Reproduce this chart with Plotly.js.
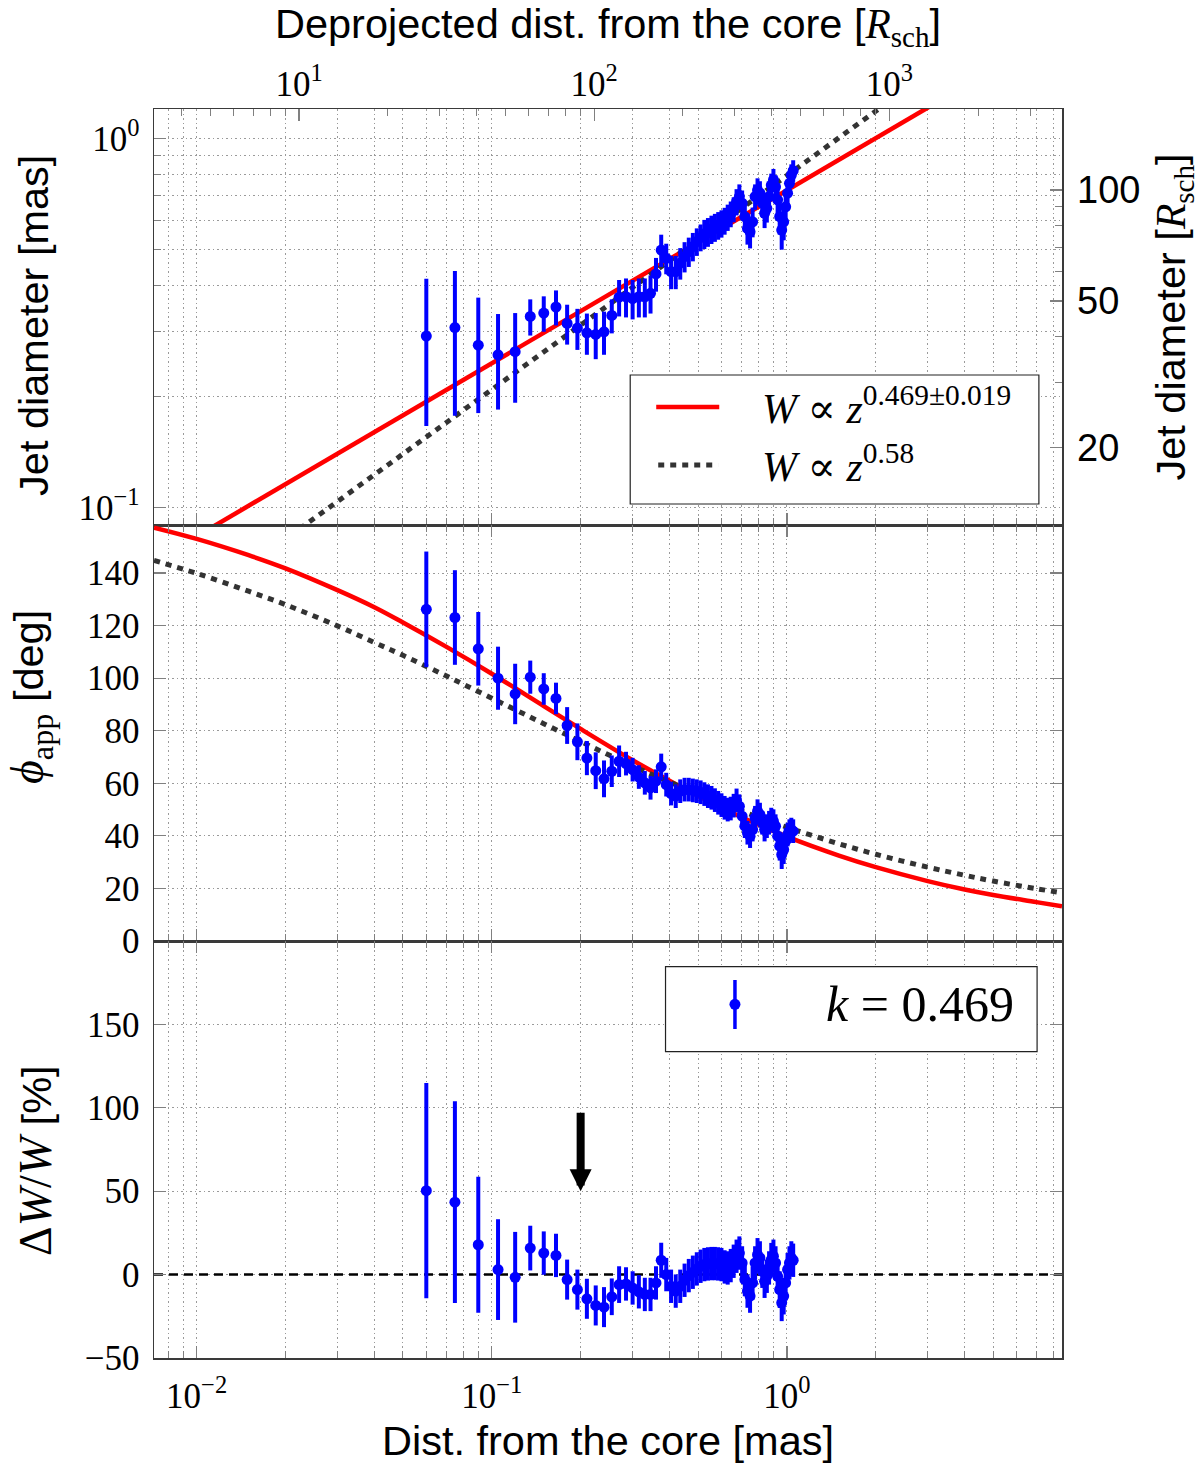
<!DOCTYPE html>
<html><head><meta charset="utf-8">
<script src="https://cdn.plot.ly/plotly-3.0.1.min.js"></script>
<style>body{margin:0;background:#fff}#chart{width:1200px;height:1464px}</style>
</head><body><div id="chart"></div>
<script>
// ---------------- data ----------------
const distMas = [0.060,0.075,0.090,0.105,0.120,0.135,0.150,0.165,0.180,0.195,0.210,0.225,0.240,0.255,0.270,0.285,0.300,0.315,0.330,0.345,0.360,0.375,0.390,0.405,0.420,0.435,0.450,0.465,0.480,0.495,0.510,0.525,0.540,0.555,0.570,0.585,0.600,0.615,0.630,0.645,0.660,0.675,0.690,0.705,0.720,0.735,0.750,0.765,0.780,0.795,0.810,0.825,0.840,0.855,0.870,0.885,0.900,0.915,0.930,0.945,0.960,0.975,0.990,1.005,1.020,1.035,1.050];
const widthMas = [0.291,0.307,0.275,0.259,0.264,0.329,0.336,0.349,0.315,0.306,0.297,0.294,0.299,0.331,0.371,0.372,0.368,0.372,0.372,0.380,0.429,0.498,0.473,0.435,0.435,0.459,0.478,0.493,0.509,0.525,0.539,0.551,0.558,0.567,0.574,0.581,0.588,0.598,0.611,0.624,0.642,0.673,0.695,0.667,0.613,0.570,0.558,0.594,0.695,0.724,0.710,0.667,0.626,0.646,0.695,0.747,0.771,0.739,0.681,0.613,0.564,0.594,0.652,0.710,0.755,0.795,0.817];
const widthErr = [0.125,0.130,0.095,0.075,0.072,0.037,0.037,0.038,0.039,0.039,0.038,0.042,0.040,0.035,0.042,0.045,0.045,0.045,0.045,0.045,0.045,0.050,0.045,0.045,0.045,0.045,0.045,0.045,0.045,0.045,0.045,0.050,0.050,0.050,0.050,0.050,0.050,0.050,0.050,0.050,0.050,0.055,0.055,0.055,0.055,0.055,0.055,0.055,0.055,0.055,0.055,0.055,0.055,0.055,0.055,0.055,0.055,0.055,0.055,0.065,0.065,0.065,0.060,0.055,0.055,0.055,0.055];
const phiDeg = [126.2,123.1,111.2,100.0,94.0,100.4,95.9,92.3,82.0,75.8,69.6,64.8,61.7,64.6,68.4,67.5,65.2,62.4,60.2,58.3,60.8,66.3,59.5,56.1,55.1,57.0,57.6,57.6,57.3,57.0,56.6,55.9,55.1,54.5,53.6,52.6,51.7,50.7,50.0,50.4,51.5,53.5,51.3,47.5,43.7,41.2,39.9,42.4,46.9,49.4,48.1,45.0,42.4,43.7,45.0,46.2,45.6,43.7,39.9,36.1,32.9,34.8,38.0,40.5,41.8,42.4,41.8];
const phiErr = [22,18,14,12,11.5,6.3,6,6,7,7,6.5,7,7,6,6,4.5,4.5,4.5,4.5,4.5,4.5,5,4.5,4.5,4.5,4.5,4.5,4.5,4.5,4.5,4.5,4.5,4.5,4.5,4.5,4.5,4.5,4.5,4.5,4.5,4.5,4.5,4.5,4.5,4.5,4.5,4.5,4.5,4.5,4.5,4.5,4.5,4.5,4.5,4.5,4.5,4.5,4.5,5,5.5,5.5,5.5,5,4.5,4.5,4.5,4.5];
const dwPct = [50.3,43.4,17.9,3.0,-1.6,15.9,12.9,11.5,-3.0,-9.0,-14.5,-18.5,-19.5,-13.3,-6.0,-5.6,-8.0,-10.3,-11.9,-11.9,-5.0,8.6,0.0,-7.0,-9.9,-7.0,-3.4,-0.6,1.4,3.4,5.0,6.0,6.4,6.6,6.6,6.4,6.0,4.6,4.0,5.4,8.0,11.0,12.9,7.0,-3.0,-9.9,-12.9,-5.0,7.0,11.9,10.0,2.0,-4.0,-1.0,4.0,9.0,11.0,7.0,-1.0,-9.0,-16.9,-12.9,-5.0,3.0,7.0,10.0,8.6];
const dwErr = [64.5,60.5,40.8,30.2,27.2,13.4,13,13,12,12,12,12,12,11,11,10,10,10,10,10,10,10.5,10,10,10,10,10,10,10,10,10,10,10,10,10,10,10,10,10,10,10,10,10,10,10,10,10,10,10,10,10,10,10,10,10,10,10,10,10,11,11,11,10.5,10,10,10,10];

// fitted power-law lines (top panel, straight in log-log)
const fitX = [0.00717, 8.55];
const fitRedW = [0.0714, 1.978];   // W ∝ z^0.469
const fitDotW = [0.0452, 2.753];   // W ∝ z^0.58
// corresponding apparent opening angle curves (middle panel)
const curveX = [0.00717,0.01,0.015,0.02,0.03,0.04,0.05,0.07,0.1,0.15,0.2,0.3,0.4,0.5,0.7,1,1.5,2,3,4,5,7,8.55];
const curveRedPhi = [157.3,153.0,146.8,141.8,133.5,127.0,121.2,112.0,101.7,89.4,80.7,68.8,61.0,55.2,47.2,39.7,32.5,28.1,22.8,19.6,17.5,14.8,13.2];
const curveDotPhi = [144.8,139.9,133.1,128.0,119.9,113.6,108.7,100.9,92.4,82.7,75.9,66.6,60.5,55.9,49.5,43.3,37.0,33.0,28.1,25.0,22.8,19.9,18.3];
const zeroX = [0.00717, 8.55];
const zeroY = [0, 0];
const arrowMas = 0.2, arrowFrom = 98, arrowTo = 50;

// axis tick labels
const xTickVals = [0.01, 0.1, 1];
const xTickText = ['10<sup>−2</sup>', '10<sup>−1</sup>', '10<sup>0</sup>'];
const topTickVals = [10, 100, 1000];
const topTickText = ['10<sup>1</sup>', '10<sup>2</sup>', '10<sup>3</sup>'];
const wTickVals = [0.1, 1];
const wTickText = ['10<sup>−1</sup>', '10<sup>0</sup>'];
const rTickVals = [20, 50, 100];
const rTickText = ['20', '50', '100'];
const phiTickVals = [0, 20, 40, 60, 80, 100, 120, 140];
const dwTickVals = [-50, 0, 50, 100, 150];

// scale factors between axes
const rschPerMas = 138;       // right axis: diameter in R_sch
const rschDeprojPerMas = 450; // top axis: deprojected distance in R_sch

// ---------------- styling ----------------
const SERIF = "Liberation Serif, DejaVu Serif, serif";
const SANS = "Liberation Sans, Arial, sans-serif";
const gridC = '#9a9a9a', lineC = '#3a3a3a', tickC = '#808080';
const GDASH = '1.5px,3px';
const BLUE = '#0000ff', RED = '#ff0000', DOT = '#333333';
const TFS = 41.5;
const L = Math.log10;

const xr = [L(0.00717), L(8.55)];
const wr = [-1.048, 0.0794];
const xMinor = [0.008,0.009,0.02,0.03,0.04,0.05,0.06,0.07,0.08,0.09,0.2,0.3,0.4,0.5,0.6,0.7,0.8,0.9,2,3,4,5,6,7,8];
const topMinor = [4,5,6,7,8,9,20,30,40,50,60,70,80,90,200,300,400,500,600,700,800,900,2000,3000];
const wMinor = [0.2,0.3,0.4,0.5,0.6,0.7,0.8,0.9];
const rMinor = [30,40,60,70,80,90];

function minorCfg(vals, grid) {
  return {tickmode:'array', tickvals: vals, ticks:'inside', ticklen:7, tickwidth:1, tickcolor:tickC,
          showgrid: grid, gridcolor:gridC, griddash:GDASH, gridwidth:1};
}
function baseAxis(extra) {
  return Object.assign({
    ticks:'inside', ticklen:12, tickwidth:1.2, tickcolor:tickC,
    showgrid:true, gridcolor:gridC, griddash:GDASH, gridwidth:1,
    showline:true, linecolor:lineC, linewidth:1.5, zeroline:false,
    tickfont:{family:SERIF, size:35, color:'#000'}, ticklabelstandoff:6
  }, extra);
}
function xAxis(anchor, extra) {
  return baseAxis(Object.assign({
    type:'log', range: xr, domain:[0,1], anchor: anchor,
    tickmode:'array', tickvals:xTickVals, ticktext:xTickText,
    minor: minorCfg(xMinor, true)
  }, extra));
}

const pT = 109, pB = 1358, H = pB - pT;
const dTop = [(pB - 525) / H, 1];
const dMid = [(pB - 941) / H, (pB - 525) / H];
const dBot = [0, (pB - 941) / H];

const MS = 11, ET = 4;
const traces = [
  {x: fitX, y: fitRedW, xaxis:'x', yaxis:'y', mode:'lines', line:{color:RED, width:4.5}, hoverinfo:'skip'},
  {x: fitX, y: fitDotW, xaxis:'x', yaxis:'y', mode:'lines', line:{color:DOT, width:5, dash:'6px,6px'}, hoverinfo:'skip'},
  {x: distMas, y: widthMas, xaxis:'x', yaxis:'y', mode:'markers', marker:{color:BLUE, size:MS},
   error_y:{type:'data', array: widthErr, visible:true, color:BLUE, thickness:ET, width:0}},
  {x: curveX, y: curveRedPhi, xaxis:'x2', yaxis:'y2', mode:'lines', line:{color:RED, width:4.5, shape:'spline'}, hoverinfo:'skip'},
  {x: curveX, y: curveDotPhi, xaxis:'x2', yaxis:'y2', mode:'lines', line:{color:DOT, width:5, dash:'6px,6px', shape:'spline'}, hoverinfo:'skip'},
  {x: distMas, y: phiDeg, xaxis:'x2', yaxis:'y2', mode:'markers', marker:{color:BLUE, size:MS},
   error_y:{type:'data', array: phiErr, visible:true, color:BLUE, thickness:ET, width:0}},
  {x: zeroX, y: zeroY, xaxis:'x3', yaxis:'y3', mode:'lines', line:{color:'#000', width:2.5, dash:'9px,6px'}, hoverinfo:'skip'},
  {x: distMas, y: dwPct, xaxis:'x3', yaxis:'y3', mode:'markers', marker:{color:BLUE, size:MS},
   error_y:{type:'data', array: dwErr, visible:true, color:BLUE, thickness:ET, width:0}},
  {x: [], y: [], xaxis:'x4', yaxis:'y', mode:'markers', hoverinfo:'skip'},
  {x: [], y: [], xaxis:'x', yaxis:'y4', mode:'markers', hoverinfo:'skip'}
];

const rsch = '<span style="font-family:Liberation Serif"><i>R</i><sub>sch</sub></span>';
const px = v => (v - 154) / 907.6;
const py = v => (pB - v) / H;

const layout = {
  width:1200, height:1464, showlegend:false,
  paper_bgcolor:'#fff', plot_bgcolor:'#fff',
  margin:{l:154, r:138.4, t:pT, b:1464 - pB, pad:0},
  font:{family:SANS, color:'#000'},
  xaxis: xAxis('y', {showticklabels:false, mirror:false}),
  xaxis2: xAxis('y2', {showticklabels:false, mirror:'ticks'}),
  xaxis3: xAxis('y3', {mirror:'ticks',
    title:{text:'Dist. from the core [mas]', font:{family:SANS, size:TFS}, standoff:12}}),
  xaxis4: baseAxis({overlaying:'x', side:'top', anchor:'y', type:'log',
    range:[xr[0] + L(rschDeprojPerMas), xr[1] + L(rschDeprojPerMas)],
    tickmode:'array', tickvals:topTickVals, ticktext:topTickText, ticklabelstandoff:-2,
    showgrid:false, minor: minorCfg(topMinor, false),
    title:{text:'Deprojected dist. from the core [' + rsch + ']', font:{family:SANS, size:TFS}, standoff:14}}),
  yaxis: baseAxis({domain:dTop, anchor:'x', type:'log', range: wr,
    tickmode:'array', tickvals:wTickVals, ticktext:wTickText, minor: minorCfg(wMinor, true)}),
  yaxis4: baseAxis({overlaying:'y', side:'right', anchor:'x', type:'log',
    range:[wr[0] + L(rschPerMas), wr[1] + L(rschPerMas)],
    tickmode:'array', tickvals:rTickVals, ticktext:rTickText, showgrid:false,
    minor: minorCfg(rMinor, false), tickfont:{family:SANS, size:38, color:'#000'},
    title:{text:'Jet diameter [' + rsch + ']', font:{family:SANS, size:TFS}, standoff:20}}),
  yaxis2: baseAxis({domain:dMid, anchor:'x2', range:[0, 158.3], mirror:'ticks',
    tickmode:'array', tickvals:phiTickVals}),
  yaxis3: baseAxis({domain:dBot, anchor:'x3', range:[-50, 200], mirror:'ticks',
    tickmode:'array', tickvals:dwTickVals}),
  shapes: [
    {type:'rect', xref:'paper', yref:'paper', x0:px(630), x1:px(1038.5), y0:py(504), y1:py(375),
     line:{color:'#222', width:1.2}, fillcolor:'#fff', layer:'above'},
    {type:'line', xref:'paper', yref:'paper', x0:px(656), x1:px(719), y0:py(407), y1:py(407),
     line:{color:RED, width:4.5}, layer:'above'},
    {type:'line', xref:'paper', yref:'paper', x0:px(658), x1:px(718), y0:py(465), y1:py(465),
     line:{color:DOT, width:5, dash:'6px,6px'}, layer:'above'},
    {type:'rect', xref:'paper', yref:'paper', x0:px(665.3), x1:px(1036.7), y0:py(1051.7), y1:py(966.7),
     line:{color:'#222', width:1.2}, fillcolor:'#fff', layer:'above'},
    {type:'line', xref:'paper', yref:'paper', x0:px(734.7), x1:px(734.7), y0:py(1029), y1:py(980),
     line:{color:BLUE, width:3.5}, layer:'above'},
    {type:'circle', xref:'paper', yref:'paper', xsizemode:'pixel', ysizemode:'pixel',
     xanchor:px(734.7), yanchor:py(1004.3), x0:-5.5, x1:5.5, y0:-5.5, y1:5.5,
     line:{color:BLUE, width:0}, fillcolor:BLUE, layer:'above'}
  ],
  annotations: [
    // left axis titles
    {xref:'paper', yref:'paper', x:px(33), y:py(325), xanchor:'center', yanchor:'middle', textangle:-90, showarrow:false,
     text:'Jet diameter [mas]', font:{family:SANS, size:TFS, color:'#000'}},
    {xref:'paper', yref:'paper', x:px(31), y:py(697), xanchor:'center', yanchor:'middle', textangle:-90, showarrow:false,
     text:'<span style="font-family:Liberation Serif;font-size:46px"><i>ϕ</i><sub>app</sub></span> [deg]', font:{family:SANS, size:TFS, color:'#000'}},
    {xref:'paper', yref:'paper', x:px(35), y:py(1160), xanchor:'center', yanchor:'middle', textangle:-90, showarrow:false,
     text:'<span style="font-family:Liberation Serif;font-size:46px">Δ<i>W</i>/<i>W</i></span> [%]', font:{family:SANS, size:TFS, color:'#000'}},
    // legend texts
    {xref:'paper', yref:'paper', x:px(760), y:py(405), xanchor:'left', yanchor:'middle', showarrow:false,
     text:'<i>W</i> ∝ <i>z</i><sup>0.469±0.019</sup>', font:{family:SERIF, size:42, color:'#000'}},
    {xref:'paper', yref:'paper', x:px(760), y:py(463), xanchor:'left', yanchor:'middle', showarrow:false,
     text:'<i>W</i> ∝ <i>z</i><sup>0.58</sup>', font:{family:SERIF, size:42, color:'#000'}},
    {xref:'paper', yref:'paper', x:px(824), y:py(1004), xanchor:'left', yanchor:'middle', showarrow:false,
     text:'<i>k</i> = 0.469', font:{family:SERIF, size:50, color:'#000'}},
    // arrow marking 0.2 mas
    {xref:'x3', yref:'y3', x:L(arrowMas), y:arrowTo, axref:'x3', ayref:'y3', ax:L(arrowMas), ay:arrowFrom,
     text:'', showarrow:true, arrowhead:2, arrowwidth:8, arrowsize:0.55, arrowcolor:'#000', standoff:0}
  ]
};

Plotly.newPlot('chart', traces, layout, {staticPlot:true, displayModeBar:false});
</script></body></html>
